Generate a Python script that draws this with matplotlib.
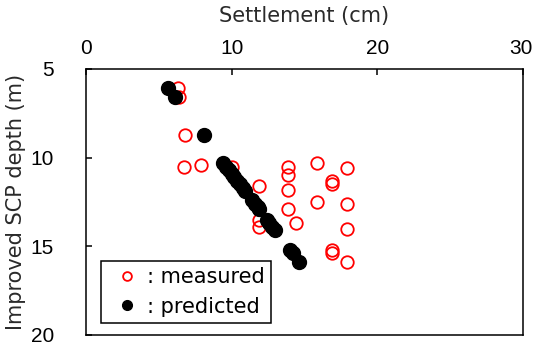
import matplotlib
matplotlib.use('Agg')
from matplotlib import pyplot as plt
from matplotlib import transforms

plt.rcParams['font.family'] = ['DejaVu Sans']

# measured settlement (cm) vs depth (m)
meas_x = [6.3, 6.4, 6.8, 6.7, 7.9, 10.0, 11.9, 11.9, 11.9, 11.9,
          13.9, 13.9, 13.9, 13.9, 14.4, 15.9, 15.9, 16.9, 16.9, 16.9,
          16.9, 17.9, 17.9, 17.9, 17.9]
meas_y = [6.1, 6.6, 8.7, 10.5, 10.4, 10.5, 11.6, 12.9, 13.5, 13.9,
          10.5, 11.0, 11.8, 12.9, 13.7, 10.3, 12.5, 11.3, 11.5, 15.2,
          15.4, 10.6, 12.6, 14.0, 15.9]

# predicted
pred_x = [5.6, 6.1, 8.1, 9.4, 9.6, 9.8, 10.0, 10.2, 10.4, 10.6,
          10.8, 10.9, 11.4, 11.6, 11.8, 11.9, 12.4, 12.6, 12.8, 13.0,
          14.0, 14.2, 14.6]
pred_y = [6.1, 6.6, 8.7, 10.3, 10.5, 10.7, 10.9, 11.1, 11.3, 11.5,
          11.7, 11.9, 12.4, 12.6, 12.8, 12.9, 13.5, 13.7, 13.9, 14.1,
          15.2, 15.4, 15.9]

fig = plt.figure(figsize=(5.34, 3.47), dpi=100)
ax = fig.add_axes([0.161, 0.0346, 0.818, 0.7666])

ax.plot(meas_x, meas_y, 'o', mfc='none', mec='red', mew=1.3, ms=9,
        ls='none', label=': measured')
ax.plot(pred_x, pred_y, 'o', mfc='black', mec='black', ms=10,
        ls='none', label=': predicted')

ax.set_xlim(0, 30)
ax.set_ylim(20, 5)
ax.set_xticks([0, 10, 20, 30])
ax.set_yticks([5, 10, 15, 20])
ax.xaxis.tick_top()
ax.xaxis.set_label_position('top')
ax.tick_params(axis='x', direction='in', length=4, width=1.1, pad=8, labelsize=15)
ax.tick_params(axis='y', direction='in', length=4, width=1.1, pad=23, labelsize=15)
for lab in ax.get_xticklabels() + ax.get_yticklabels():
    lab.set_family('Liberation Sans')
# nudge the last x label so it stays inside the figure
last = ax.get_xticklabels()[-1]
last.set_transform(last.get_transform() + transforms.ScaledTranslation(-2 / 100, 0, fig.dpi_scale_trans))

ax.set_xlabel('Settlement (cm)', fontsize=15, labelpad=12, color='#2a2a2a')
ax.set_ylabel('Improved SCP depth (m)', fontsize=15, labelpad=3, color='#2a2a2a')
for s in ax.spines.values():
    s.set_linewidth(1.1)

leg = ax.legend(loc='lower left', bbox_to_anchor=(0.034, 0.045), borderaxespad=0,
                fancybox=False, framealpha=1, edgecolor='black',
                prop={'size': 15},
                handletextpad=0.0, borderpad=0.3, labelspacing=0.45,
                handlelength=1.9, markerscale=0.7)
leg.get_frame().set_linewidth(1.1)

fig.savefig('out.png', dpi=100)
